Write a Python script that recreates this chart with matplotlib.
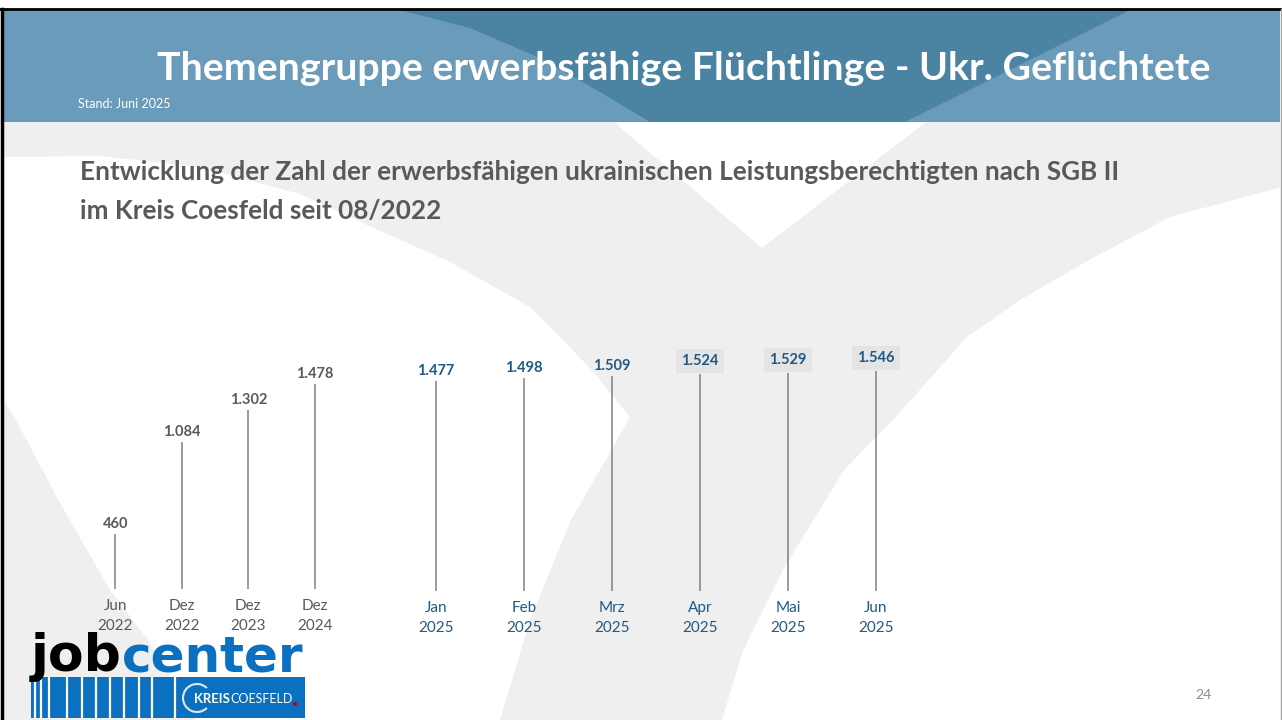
import matplotlib.pyplot as plt
from matplotlib.patches import Polygon, Rectangle, Arc, Circle

plt.rcParams['font.family'] = ['Lato', 'DejaVu Sans']

# --- DATA ---
hist_months = ["Jun", "Dez", "Dez", "Dez"]
hist_years = ["2022", "2022", "2023", "2024"]
hist_values = [460, 1084, 1302, 1478]

months_2025 = ["Jan", "Feb", "Mrz", "Apr", "Mai", "Jun"]
years_2025 = ["2025"] * 6
values_2025 = [1477, 1498, 1509, 1524, 1529, 1546]

W, H = 1282, 720
GREY_TXT = "#595959"
BLUE_TXT = "#1f5a85"
LINE_COL = "#808080"
PX_PER_UNIT = 0.1472


def de_num(v):
    return f"{v:,}".replace(",", ".")


fig = plt.figure(figsize=(W / 100, H / 100), dpi=100)
renderer = fig.canvas.get_renderer()


def fit_width(t, target):
    w = t.get_window_extent(renderer).width
    t.set_fontsize(t.get_fontsize() * target / w)


# --- slide background (pixel coordinates) ---
bg = fig.add_axes([0, 0, 1, 1], zorder=0)
bg.set_xlim(0, W)
bg.set_ylim(H, 0)
bg.axis('off')

bg.add_patch(Rectangle((3, 122), 1277, 598, color="#efefef", lw=0))
white_a = [(3, 157), (100, 156), (200, 167), (300, 194), (367, 225), (450, 262),
           (530, 307), (590, 368), (630, 417), (600, 470), (571, 520), (530, 620),
           (500, 720), (196, 720), (148, 640), (110, 590), (60, 503), (16, 420), (3, 398)]
white_b = [(614, 122), (926, 122), (762, 248)]
white_c = [(1282, 187), (1170, 217), (1089, 260), (1020, 300), (967, 337), (893, 420),
           (844, 470), (783, 570), (742, 653), (722, 720), (1282, 720)]
for poly in (white_a, white_b, white_c):
    bg.add_patch(Polygon(poly, closed=True, color="white", lw=0))

# header band
bg.add_patch(Rectangle((3, 10), 1277, 112, color="#6b9bba", lw=0))
bg.add_patch(Polygon([(400, 10), (1130, 10), (905, 122), (650, 122), (600, 92),
                      (540, 58), (470, 28)], closed=True, color="#4b83a3", lw=0))
bg.plot([0, W], [9, 9], color="black", lw=2)
bg.plot([1.5, 1.5], [9, H], color="black", lw=2.5)
bg.plot([1280.5, 1280.5], [9, H], color="#a0a0a0", lw=1)

title = bg.text(684, 68, "Themengruppe erwerbsfähige Flüchtlinge - Ukr. Geflüchtete",
                color="white", fontsize=28, fontweight="bold", ha="center", va="center")
fit_width(title, 1052)
bg.text(78, 104, "Stand: Juni 2025", color="white", fontsize=9, ha="left", va="center")

sub1 = bg.text(80, 172, "Entwicklung der Zahl der erwerbsfähigen ukrainischen "
               "Leistungsberechtigten nach SGB II", color=GREY_TXT, fontsize=16,
               fontweight="bold", ha="left", va="center")
fit_width(sub1, 1040)
bg.text(80, 211, "im Kreis Coesfeld seit 08/2022", color=GREY_TXT,
        fontsize=sub1.get_fontsize(), fontweight="bold", ha="left", va="center")

bg.text(1203, 695, "24", color="#8c8c8c", fontsize=10, ha="center", va="center")

# jobcenter logo
bg.add_patch(Rectangle((31, 677), 274, 41, color="#0a70bf", lw=0))
for sx in [35, 41, 49, 67, 82, 96, 110, 124, 139, 152, 175]:
    bg.plot([sx, sx], [678, 718], color="white", lw=1.6)
job = bg.text(31, 671, "job", color="black", fontsize=33, fontweight="heavy",
              ha="left", va="baseline", family="DejaVu Sans")
fit_width(job, 91)
center = bg.text(122, 671, "center", color="#0a70bf", fontsize=33, fontweight="heavy",
                 ha="left", va="baseline", family="DejaVu Sans")
fit_width(center, 182)
bg.add_patch(Arc((197, 698), 28, 28, theta1=45, theta2=315, color="#dce8f3", lw=1.5))
kreis = bg.text(194, 699, "KREIS", color="white", fontsize=10, fontweight="bold",
                ha="left", va="center")
fit_width(kreis, 36)
coes = bg.text(230, 699, "COESFELD", color="white", fontsize=10, ha="left", va="center")
fit_width(coes, 62)
bg.add_patch(Circle((295, 704), 2, color="#c00000", lw=0))


# --- charts ---
def drop_chart(rect, v0, values, months, years, txt_col, boxed=()):
    ax = fig.add_axes(rect, zorder=2)
    ax.patch.set_alpha(0)
    top_px = rect[3] * H
    ax.set_xlim(-0.5, len(values) - 0.5)
    ax.set_ylim(v0, v0 + top_px / PX_PER_UNIT)
    xs = range(len(values))
    ax.vlines(xs, v0, values, color=LINE_COL, lw=1.1)
    for i, v in zip(xs, values):
        kw = {}
        if i in boxed:
            kw['bbox'] = dict(boxstyle="square,pad=0.35", fc="#e4e4e4", ec="none")
        ax.annotate(de_num(v), (i, v), xytext=(0, 6 if i in boxed else 3),
                    textcoords="offset pixels", ha="center", va="bottom",
                    fontsize=10.5, fontweight="bold", color=txt_col, **kw)
    ax.set_xticks(list(xs), [f"{m}\n{y}" for m, y in zip(months, years)])
    ax.tick_params(axis='x', length=0, pad=7.5, labelsize=11, labelcolor=txt_col)
    for lbl in ax.get_xticklabels():
        lbl.set_linespacing(1.55)
    ax.set_yticks([])
    for s in ax.spines.values():
        s.set_visible(False)
    return ax


drop_chart([82 / W, 1 - 589 / H, 266 / W, 289 / H], 85, hist_values,
           hist_months, hist_years, GREY_TXT)
drop_chart([392 / W, 1 - 591 / H, 528 / W, 291 / H], 50, values_2025,
           months_2025, years_2025, BLUE_TXT, boxed=(3, 4, 5))

fig.savefig("out.png", dpi=100)
